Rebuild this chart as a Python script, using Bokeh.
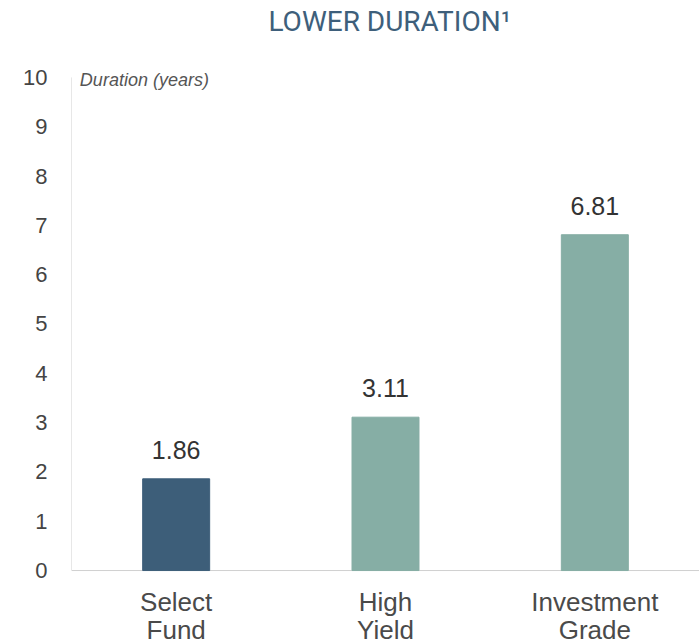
from bokeh.plotting import figure
from bokeh.models import FactorRange, Range1d, Label, ColumnDataSource, FixedTicker
from bokeh.core.properties import value
from bokeh.embed import file_html
from bokeh.resources import INLINE

categories = ["Select\nFund", "High\nYield", "Investment\nGrade"]
durations = [1.86, 3.11, 6.81]
bar_colors = ["#3d5e79", "#86aea5", "#86aea5"]
value_labels = ["1.86", "3.11", "6.81"]
y_ticks = [0, 1, 2, 3, 4, 5, 6, 7, 8, 9, 10]
y_max = 10

line1 = [c.split("\n")[0] for c in categories]
line2 = [c.split("\n")[1] for c in categories]

src = ColumnDataSource(dict(x=categories, top=durations, color=bar_colors, lab=value_labels,
                            base=[0] * len(categories), l1=line1, l2=line2))

p = figure(width=699, height=644, x_range=FactorRange(*categories), y_range=Range1d(-1.5, 11.56),
           output_backend="svg", toolbar_location=None,
           min_border_left=71, min_border_right=0, min_border_top=0, min_border_bottom=0)
p.outline_line_color = None
p.xgrid.grid_line_color = None
p.ygrid.grid_line_color = None
p.x_range.range_padding = 0
p.background_fill_color = "white"
p.xaxis.visible = False

# axis lines
p.segment(x0=[0], y0=[0], x1=[0], y1=[y_max], line_color="#d0d0d0", line_width=1)
p.segment(x0=[0], y0=[0], x1=[len(categories)], y1=[0], line_color="#d0d0d0", line_width=1)

p.vbar(x="x", top="top", width=0.32, color="color", source=src)
p.text(x="x", y="top", text="lab", source=src, text_align="center", text_baseline="bottom",
       y_offset=-20, text_font=value("Liberation Sans"), text_font_size="25px", text_color="#333333")

# category labels (two lines)
p.text(x="x", y="base", text="l1", source=src, text_align="center", text_baseline="middle",
       y_offset=31, text_font=value("Liberation Sans"), text_font_size="26px", text_color="#4a4a4a")
p.text(x="x", y="base", text="l2", source=src, text_align="center", text_baseline="middle",
       y_offset=59, text_font=value("Liberation Sans"), text_font_size="26px", text_color="#4a4a4a")

ax = p.yaxis[0]
ax.ticker = FixedTicker(ticks=y_ticks)
ax.axis_line_color = None
ax.major_tick_line_color = None
ax.minor_tick_line_color = None
ax.major_tick_out = 0
ax.major_tick_in = 0
ax.major_label_standoff = 24
ax.major_label_text_font = "Liberation Sans"
ax.major_label_text_font_size = "22px"
ax.major_label_text_color = "#444444"

p.add_layout(Label(x=0.04, y=9.94, text="Duration (years)", text_baseline="middle",
                   text_font="Liberation Sans", text_font_style="italic",
                   text_font_size="18px", text_color="#555555"))
p.add_layout(Label(x=1.52, y=11.14, text="LOWER DURATION\u00b9", text_align="center",
                   text_baseline="middle", text_font="Roboto",
                   text_font_size="28px", text_color="#3e5f7b"))

open("out.html", "w").write(file_html(p, INLINE))
